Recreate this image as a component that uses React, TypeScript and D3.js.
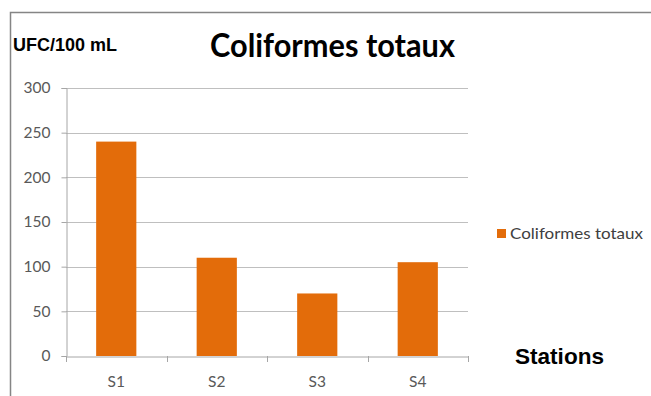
import React, { useEffect, useRef } from "react";
import * as d3 from "d3";

// Total coliform counts per sampling station
const stations = ["S1", "S2", "S3", "S4"];
const coliformes = [240, 110, 70, 105];
const yTicks = [0, 50, 100, 150, 200, 250, 300];
const seriesName = "Coliformes totaux";

const W = 651;
const H = 396;
const ORANGE = "#E36C0A";

export default function App() {
  const ref = useRef<SVGSVGElement | null>(null);

  useEffect(() => {
    const svg = d3.select(ref.current);
    svg.selectAll("*").remove();

    const plot = { left: 66, right: 468, top: 88, bottom: 356 };

    const x = d3
      .scaleBand<string>()
      .domain(stations)
      .range([plot.left, plot.right])
      .paddingInner(0.6)
      .paddingOuter(0.3);
    const y = d3.scaleLinear().domain([0, 300]).range([plot.bottom, plot.top]);

    // chart frame
    svg
      .append("rect")
      .attr("x", 10.5)
      .attr("y", 12.5)
      .attr("width", 700)
      .attr("height", 500)
      .attr("fill", "#fff")
      .attr("stroke", "#858585")
      .attr("stroke-width", 1.5);

    // horizontal gridlines
    svg
      .append("g")
      .selectAll("line")
      .data(yTicks.filter((t) => t > 0))
      .join("line")
      .attr("x1", plot.left)
      .attr("x2", plot.right)
      .attr("y1", (d) => Math.round(y(d)) + 0.5)
      .attr("y2", (d) => Math.round(y(d)) + 0.5)
      .attr("stroke", "#bfbfbf")
      .attr("stroke-width", 1);

    // y axis
    const yAxis = svg
      .append("g")
      .attr("transform", `translate(${plot.left + 0.5},0)`)
      .call(
        d3
          .axisLeft(y)
          .tickValues(yTicks)
          .tickSize(5)
          .tickPadding(11)
          .tickFormat(d3.format("d"))
      );
    yAxis.select(".domain").attr("stroke", "#a6a6a6");
    yAxis.selectAll(".tick line").attr("stroke", "#a6a6a6");
    yAxis
      .selectAll(".tick text")
      .attr("fill", "#595959")
      .attr("font-family", "Lato, 'Open Sans', sans-serif")
      .attr("font-size", 15.5);

    // x axis
    const xAxis = svg
      .append("g")
      .attr("transform", `translate(0,${plot.bottom + 0.5})`)
      .call(d3.axisBottom(x).tickSize(0).tickPadding(19));
    xAxis.select(".domain").attr("stroke", "#a6a6a6");
    xAxis
      .selectAll(".tick text")
      .attr("fill", "#595959")
      .attr("font-family", "Lato, 'Open Sans', sans-serif")
      .attr("font-size", 15.5);

    // category boundary ticks
    const bounds = d3
      .range(stations.length + 1)
      .map((i) => plot.left + (i * (plot.right - plot.left)) / stations.length);
    svg
      .append("g")
      .selectAll("line")
      .data(bounds)
      .join("line")
      .attr("x1", (d) => Math.round(d) + 0.5)
      .attr("x2", (d) => Math.round(d) + 0.5)
      .attr("y1", plot.bottom)
      .attr("y2", plot.bottom + 6)
      .attr("stroke", "#a6a6a6");

    // bars
    svg
      .append("g")
      .selectAll("rect")
      .data(stations.map((s, i) => ({ s, v: coliformes[i] })))
      .join("rect")
      .attr("x", (d) => x(d.s)!)
      .attr("width", x.bandwidth())
      .attr("y", (d) => y(d.v))
      .attr("height", (d) => y(0) - y(d.v))
      .attr("fill", ORANGE);

    // title
    svg
      .append("text")
      .attr("x", 332.5)
      .attr("y", 57)
      .attr("text-anchor", "middle")
      .attr("font-family", "Lato, 'Open Sans', sans-serif")
      .attr("font-weight", "bold")
      .attr("font-size", 32)
      .attr("textLength", 245)
      .attr("lengthAdjust", "spacingAndGlyphs")
      .attr("fill", "#000")
      .text(seriesName);

    // y unit label
    svg
      .append("text")
      .attr("x", 13)
      .attr("y", 51)
      .attr("font-family", "'Liberation Sans', Arial, sans-serif")
      .attr("font-weight", "bold")
      .attr("font-size", 18)
      .attr("textLength", 104)
      .attr("lengthAdjust", "spacingAndGlyphs")
      .attr("fill", "#000")
      .text("UFC/100 mL");

    // x axis title
    svg
      .append("text")
      .attr("x", 515)
      .attr("y", 364)
      .attr("font-family", "'Liberation Sans', Arial, sans-serif")
      .attr("font-weight", "bold")
      .attr("font-size", 22)
      .attr("textLength", 89)
      .attr("lengthAdjust", "spacingAndGlyphs")
      .attr("fill", "#000")
      .text("Stations");

    // legend
    const lg = svg.append("g").attr("transform", "translate(497,229)");
    lg.append("rect").attr("width", 9).attr("height", 9).attr("fill", ORANGE);
    lg.append("text")
      .attr("x", 13)
      .attr("y", 9.5)
      .attr("font-family", "Lato, 'Open Sans', sans-serif")
      .attr("font-size", 15)
      .attr("textLength", 133)
      .attr("lengthAdjust", "spacingAndGlyphs")
      .attr("fill", "#404040")
      .text(seriesName);
  }, []);

  return (
    <svg
      ref={ref}
      width={W}
      height={H}
      style={{ position: "absolute", left: 0, top: 0, display: "block", background: "#fff" }}
    />
  );
}
